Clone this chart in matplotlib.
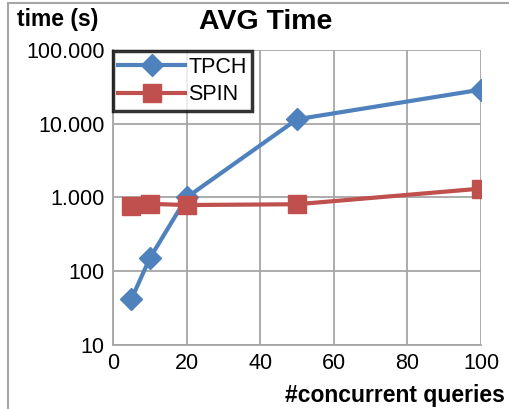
import matplotlib.pyplot as plt
from matplotlib.patches import Rectangle

plt.rcParams['font.family'] = ['Liberation Sans', 'DejaVu Sans']

queries = [5, 10, 20, 50, 100]
tpch_time = [42, 150, 1000, 11500, 29000]
spin_time = [760, 820, 790, 810, 1320]

x_ticks = [0, 20, 40, 60, 80, 100]
y_ticks = [10, 100, 1000, 10000, 100000]
y_tick_labels = ["10", "100", "1.000", "10.000", "100.000"]

blue = "#4F81BD"
red = "#C0504D"
grid_grey = "#A6A6A6"

fig = plt.figure(figsize=(5.10, 4.09), dpi=100)
ax = fig.add_axes([0.2216, 0.1565, 0.7216, 0.7213])

ax.plot(queries, tpch_time, color=blue, lw=3, marker="D", ms=11, label="TPCH")
ax.plot(queries, spin_time, color=red, lw=3, marker="s", ms=13, label="SPIN")

ax.set_yscale("log")
ax.set_xlim(0, 100)
ax.set_ylim(10, 100000)
ax.set_xticks(x_ticks)
ax.set_yticks(y_ticks)
ax.set_yticklabels(y_tick_labels)
ax.minorticks_off()
ax.tick_params(axis="both", length=0, labelsize=15.5, pad=6)
ax.grid(True, color=grid_grey, lw=1.3)
ax.set_axisbelow(True)
for side in ["top", "right"]:
    ax.spines[side].set_visible(False)
for side in ["left", "bottom"]:
    ax.spines[side].set_color(grid_grey)
    ax.spines[side].set_linewidth(1.3)

leg = ax.legend(loc="upper left", bbox_to_anchor=(0.0, 0.995), fontsize=15.5,
                frameon=True, fancybox=False, borderaxespad=0.0,
                handlelength=3.1, handletextpad=0.15, labelspacing=0.3,
                borderpad=0.25, edgecolor="black")
leg.get_frame().set_linewidth(2.5)

fig.text(0.52, 0.945, "AVG Time", ha="center", va="center",
         fontsize=20.5, fontweight="bold")
fig.text(0.033, 0.952, "time (s)", ha="left", va="center",
         fontsize=16.5, fontweight="bold")
fig.text(0.99, 0.034, "#concurrent queries", ha="right", va="center",
         fontsize=16.5, fontweight="bold")

# thin grey frame round the whole figure
fig.patches.append(Rectangle((8 / 510, -0.05), 1.1, 1.05 - 3 / 409,
                             transform=fig.transFigure, fill=False,
                             edgecolor=grid_grey, lw=1.5))

fig.savefig("out.png", dpi=100)
